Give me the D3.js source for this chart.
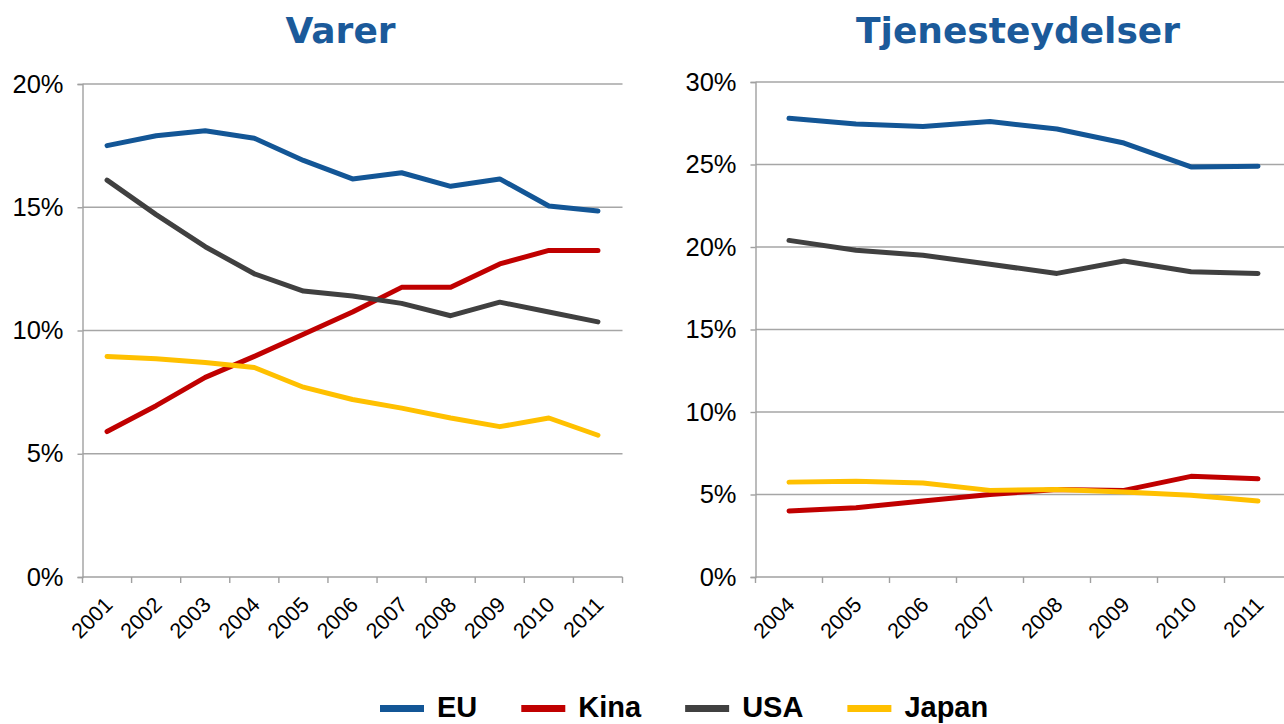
<!DOCTYPE html>
<html>
<head>
<meta charset="utf-8">
<script src="https://cdn.jsdelivr.net/npm/d3@7"></script>
<style>
  html, body { margin: 0; padding: 0; background: #fff; }
  svg { display: block; }
</style>
</head>
<body>
<svg id="chart" width="1284" height="724"></svg>
<script>
// ---------- DATA ----------
const seriesNames = ["EU", "Kina", "USA", "Japan"];
const seriesColors = ["#135696", "#C00000", "#404040", "#FFC000"];

const varerTitle = "Varer";
const varerYears = ["2001","2002","2003","2004","2005","2006","2007","2008","2009","2010","2011"];
const varerEU    = [17.5, 17.9, 18.1, 17.8, 16.9, 16.15, 16.4, 15.85, 16.15, 15.05, 14.85];
const varerKina  = [5.9, 6.95, 8.1, 8.95, 9.85, 10.75, 11.75, 11.75, 12.7, 13.25, 13.25];
const varerUSA   = [16.1, 14.7, 13.4, 12.3, 11.6, 11.4, 11.1, 10.6, 11.15, 10.75, 10.35];
const varerJapan = [8.95, 8.85, 8.7, 8.5, 7.7, 7.2, 6.85, 6.45, 6.1, 6.45, 5.75];
const varerTicks = [0, 5, 10, 15, 20];

const tjenTitle = "Tjenesteydelser";
const tjenYears = ["2004","2005","2006","2007","2008","2009","2010","2011"];
const tjenEU    = [27.8, 27.45, 27.3, 27.6, 27.15, 26.3, 24.85, 24.9];
const tjenKina  = [4.0, 4.2, 4.6, 5.0, 5.3, 5.25, 6.1, 5.95];
const tjenUSA   = [20.4, 19.8, 19.5, 18.95, 18.4, 19.15, 18.5, 18.4];
const tjenJapan = [5.75, 5.8, 5.7, 5.25, 5.3, 5.15, 4.95, 4.6];
const tjenTicks = [0, 5, 10, 15, 20, 25, 30];

// ---------- DRAW ----------
const svg = d3.select("#chart");
const gridColor = "#a6a6a6";
const axisColor = "#a0a0a0";

function drawPanel(cfg) {
  const { title, years, series, ticks, left, right, top, bottom, titleX } = cfg;
  const g = svg.append("g");

  const x = d3.scaleBand().domain(years).range([left, right]);
  const y = d3.scaleLinear().domain([0, d3.max(ticks)]).range([bottom, top]);

  // title
  g.append("text")
    .attr("x", titleX).attr("y", 43)
    .attr("text-anchor", "middle")
    .attr("font-family", "DejaVu Sans, Verdana, sans-serif")
    .attr("font-weight", "bold")
    .attr("font-size", 36)
    .attr("fill", "#1B5A9A")
    .text(title);

  // gridlines
  g.append("g").selectAll("line")
    .data(ticks.filter(t => t > 0))
    .join("line")
    .attr("x1", left).attr("x2", right)
    .attr("y1", d => y(d)).attr("y2", d => y(d))
    .attr("stroke", gridColor).attr("stroke-width", 1.4);

  // y axis
  const yAxis = d3.axisLeft(y).tickValues(ticks).tickSize(5).tickPadding(14)
    .tickFormat(d => d + "%");
  const ya = g.append("g").attr("transform", `translate(${left},0)`).call(yAxis);
  ya.select(".domain").attr("stroke", axisColor).attr("stroke-width", 1.4);
  ya.selectAll(".tick line").attr("stroke", axisColor).attr("stroke-width", 1.4);
  ya.selectAll(".tick text")
    .attr("font-family", "Liberation Sans, Arial, sans-serif")
    .attr("font-size", 25.5).attr("fill", "#000");

  // x axis (ticks at category boundaries)
  const xa = g.append("g").attr("transform", `translate(0,${bottom})`);
  xa.append("line").attr("x1", left).attr("x2", right)
    .attr("stroke", axisColor).attr("stroke-width", 1.4);
  const bounds = years.map(d => x(d)).concat([right]);
  xa.selectAll("line.tk").data(bounds).join("line").attr("class", "tk")
    .attr("x1", d => d).attr("x2", d => d).attr("y1", 0).attr("y2", 6)
    .attr("stroke", axisColor).attr("stroke-width", 1.4);
  xa.selectAll("text").data(years).join("text")
    .attr("transform", d => `translate(${x(d) + x.bandwidth() / 2 + 7},${29}) rotate(-45)`)
    .attr("text-anchor", "end")
    .attr("font-family", "Liberation Sans, Arial, sans-serif")
    .attr("font-size", 21.5).attr("fill", "#000")
    .text(d => d);

  // lines
  const line = d3.line()
    .x((d, i) => x(years[i]) + x.bandwidth() / 2)
    .y(d => y(d));
  series.forEach((vals, si) => {
    g.append("path")
      .datum(vals)
      .attr("d", line)
      .attr("fill", "none")
      .attr("stroke", seriesColors[si])
      .attr("stroke-width", 5)
      .attr("stroke-linecap", "round")
      .attr("stroke-linejoin", "round");
  });
}

drawPanel({
  title: varerTitle, years: varerYears,
  series: [varerEU, varerKina, varerUSA, varerJapan],
  ticks: varerTicks, left: 82.5, right: 622.5, top: 84, bottom: 577, titleX: 340.5
});

drawPanel({
  title: tjenTitle, years: tjenYears,
  series: [tjenEU, tjenKina, tjenUSA, tjenJapan],
  ticks: tjenTicks, left: 755.5, right: 1291.5, top: 82, bottom: 577, titleX: 1018
});

// legend
const legend = svg.append("g");
let lx = 380;
seriesNames.forEach((name, i) => {
  legend.append("rect")
    .attr("x", lx).attr("y", 705).attr("width", 44).attr("height", 7)
    .attr("fill", seriesColors[i]);
  const t = legend.append("text")
    .attr("x", lx + 57).attr("y", 717)
    .attr("font-family", "Liberation Sans, Arial, sans-serif")
    .attr("font-weight", "bold").attr("font-size", 29)
    .attr("fill", "#000")
    .text(name);
  lx = lx + 57 + t.node().getComputedTextLength() + 44;
});
</script>
</body>
</html>
